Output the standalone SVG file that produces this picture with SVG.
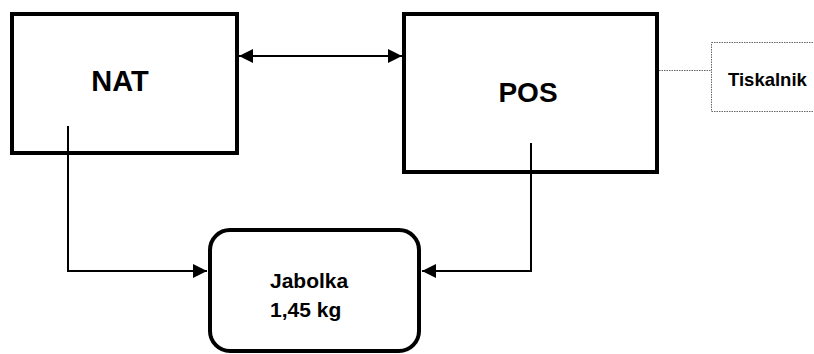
<svg xmlns="http://www.w3.org/2000/svg" width="814" height="354" viewBox="0 0 814 354">
<style>
.box{fill:#fff;stroke:#000;stroke-width:4}
.conn{fill:none;stroke:#000;stroke-width:2}
.dot{fill:none;stroke:#666;stroke-width:1;stroke-dasharray:1.5 1}
.t{font-family:"Liberation Sans",Arial,sans-serif;font-weight:bold;fill:#000}
</style>
<defs>
<marker id="ah" viewBox="0 0 14 14" refX="14" refY="7" markerWidth="14" markerHeight="14" markerUnits="userSpaceOnUse" orient="auto-start-reverse">
<path d="M0,0 L14,7 L0,14 Z" fill="#000"/>
</marker>
</defs>
<rect width="814" height="354" fill="#fff"/>
<g id="nat">
<rect class="box" x="12" y="14" width="225" height="139"/>
<text class="t" x="120" y="91" font-size="29" text-anchor="middle">NAT</text>
</g>
<g id="pos">
<rect class="box" x="404" y="14" width="253" height="158"/>
<text class="t" x="528" y="102" font-size="28" text-anchor="middle">POS</text>
</g>
<g id="tiskalnik">
<rect class="dot" x="711.5" y="42.5" width="110" height="69"/>
<text class="t" x="728" y="86" font-size="18.5">Tiskalnik</text>
</g>
<g id="jabolka">
<rect class="box" x="210" y="230" width="209" height="121" rx="20" ry="20"/>
<text class="t" x="270" y="288" font-size="21">Jabolka</text>
<text class="t" x="270" y="317" font-size="21">1,45 kg</text>
</g>
<g id="connectors">
<line class="conn" x1="239" y1="56" x2="402" y2="56" marker-start="url(#ah)" marker-end="url(#ah)"/>
<polyline class="conn" points="68,126 68,271 207,271" marker-end="url(#ah)"/>
<polyline class="conn" points="531,143 531,271 422,271" marker-end="url(#ah)"/>
<line class="dot" x1="659" y1="70.5" x2="711" y2="70.5"/>
</g>
</svg>
